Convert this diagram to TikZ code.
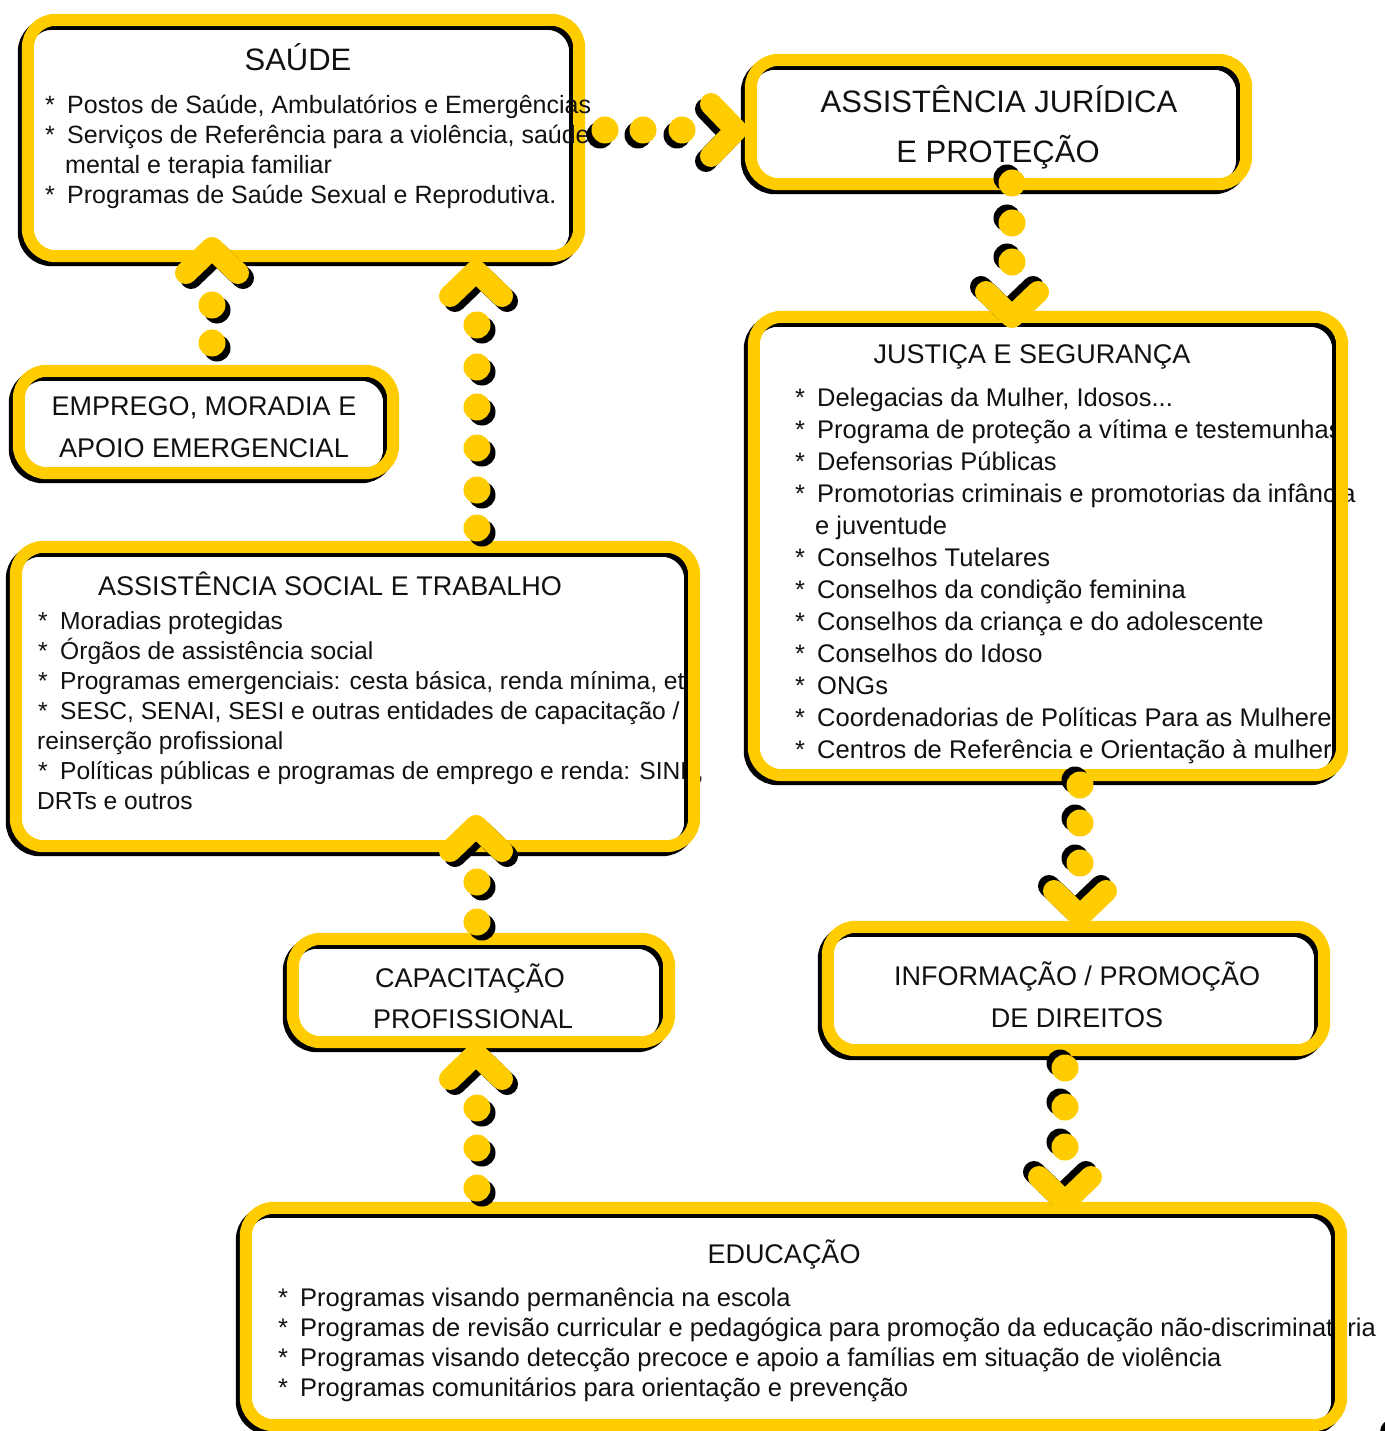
\documentclass[tikz,border=0pt]{standalone}
\usepackage{fontspec}
\setmainfont{Liberation Sans}
\definecolor{ylw}{HTML}{FFCC00}
\definecolor{txt}{HTML}{111111}
\tikzset{
 boxbg/.style={fill=white, draw=none, rounded corners=28pt, inner sep=0pt},
 bordS/.style={draw=black, line width=12pt, rounded corners=28pt},
 bordY/.style={draw=ylw, line width=12pt, rounded corners=28pt},
 chevS/.style={draw=black, line width=22pt, line cap=round, line join=round},
 chevY/.style={draw=ylw, line width=22pt, line cap=round, line join=round},
 ttl/.style={font=\fontsize{27}{32}\selectfont, anchor=base, inner sep=0pt, text=txt},
 bigttl/.style={font=\fontsize{31}{36}\selectfont, anchor=base, inner sep=0pt, text=txt},
 body/.style={font=\fontsize{25.5}{30}\selectfont, anchor=base west, inner sep=0pt, text=txt},
 sbody/.style={body, font=\fontsize{25}{30}\selectfont},
 cbody/.style={body, font=\fontsize{24.6}{30}\selectfont},
}
\newcommand\bul{\makebox[22pt][l]{*}}
\newcommand\boxborder[1]{%
 \draw[bordS] ([shift={(-4pt,-4pt)}]#1.south west) rectangle ([shift={(-4pt,-4pt)}]#1.north east);
 \draw[bordY] (#1.south west) rectangle (#1.north east);}
% dot: x, y, shadow dx, shadow dy
\newcommand\ydot[4]{%
 \fill[black] (#1+#3,#2+#4) circle[radius=13.5pt];
 \fill[ylw] (#1,#2) circle[radius=13.5pt];}
\newcommand\upchev[2]{%
 \draw[chevS, shift={(5,5)}] (#1-26,#2+25) -- (#1,#2) -- (#1+26,#2+25);
 \draw[chevY] (#1-26,#2+25) -- (#1,#2) -- (#1+26,#2+25);}
\newcommand\downchev[2]{%
 \draw[chevS, shift={(-5,-5)}] (#1-26,#2-25) -- (#1,#2) -- (#1+26,#2-25);
 \draw[chevY] (#1-26,#2-25) -- (#1,#2) -- (#1+26,#2-25);}
\newcommand\rightchev[2]{%
 \draw[chevS, shift={(-5,5)}] (#1-25,#2-26) -- (#1,#2) -- (#1-25,#2+26);
 \draw[chevY] (#1-25,#2-26) -- (#1,#2) -- (#1-25,#2+26);}
\begin{document}
\begin{tikzpicture}[x=1pt,y=-1pt]
\useasboundingbox (0,0) rectangle (1384,1431);
\fill[white] (0,0) rectangle (1384,1431);

% ---------- box backgrounds ----------
\node[boxbg, minimum width=551pt, minimum height=236pt] (saude) at (303.5,138) {};
\node[boxbg, minimum width=495pt, minimum height=124pt] (jur) at (998.5,122) {};
\node[boxbg, minimum width=374pt, minimum height=102pt] (emp) at (206,422) {};
\node[boxbg, minimum width=678pt, minimum height=299pt] (soc) at (355,696.5) {};
\node[boxbg, minimum width=588pt, minimum height=458pt] (just) at (1048,546) {};
\node[boxbg, minimum width=376pt, minimum height=103pt] (cap) at (481,990.5) {};
\node[boxbg, minimum width=496pt, minimum height=123pt] (inf) at (1076,988.5) {};
\node[boxbg, minimum width=1095pt, minimum height=217pt] (edu) at (793.5,1316.5) {};

% ---------- texts (below borders) ----------
\node[bigttl] (jurT1) at (999,113) {ASSISTÊNCIA JURÍDICA};
\node[bigttl] (jurT2) at (998,163) {E PROTEÇÃO};

\node[ttl] (empT1) at (204,415) {EMPREGO, MORADIA E};
\node[ttl] (empT2) at (204,457) {APOIO EMERGENCIAL};

\node[ttl] (socT) at (330,595) {ASSISTÊNCIA SOCIAL E TRABALHO};
\node[cbody] (soc1) at (38,629) {\bul Moradias protegidas};
\node[cbody] (soc2) at (38,659) {\bul Órgãos de assistência social};
\node[cbody] (soc3) at (38,689) {\bul Programas emergenciais: cesta básica, renda mínima, etc};
\node[cbody] (soc4) at (38,719) {\bul SESC, SENAI, SESI e outras entidades de capacitação /};
\node[cbody] (soc5) at (37,749) {reinserção profissional};
\node[cbody] (soc6) at (38,779) {\bul Políticas públicas e programas de emprego e renda: SINE,};
\node[cbody] (soc7) at (37,809) {DRTs e outros};

\node[ttl] (justT) at (1032,363) {JUSTIÇA E SEGURANÇA};
\node[body] (just1) at (795,406) {\bul Delegacias da Mulher, Idosos...};
\node[body] (just2) at (795,438) {\bul Programa de proteção a vítima e testemunhas;};
\node[body] (just3) at (795,470) {\bul Defensorias Públicas};
\node[body] (just4) at (795,502) {\bul Promotorias criminais e promotorias da infância};
\node[body] (just5) at (815,534) {e juventude};
\node[body] (just6) at (795,566) {\bul Conselhos Tutelares};
\node[body] (just7) at (795,598) {\bul Conselhos da condição feminina};
\node[body] (just8) at (795,630) {\bul Conselhos da criança e do adolescente};
\node[body] (just9) at (795,662) {\bul Conselhos do Idoso};
\node[body] (just10) at (795,694) {\bul ONGs};
\node[body] (just11) at (795,726) {\bul Coordenadorias de Políticas Para as Mulheres};
\node[body] (just12) at (795,758) {\bul Centros de Referência e Orientação à mulher};

\node[ttl] (capT1) at (470,987) {CAPACITAÇÃO};
\node[ttl] (capT2) at (473,1028) {PROFISSIONAL};

\node[ttl] (infT1) at (1077,985) {INFORMAÇÃO / PROMOÇÃO};
\node[ttl] (infT2) at (1077,1027) {DE DIREITOS};

\node[ttl] (eduT) at (784,1263) {EDUCAÇÃO};
\node[body] (edu1) at (278,1306) {\bul Programas visando permanência na escola};
\node[body] (edu2) at (278,1336) {\bul Programas de revisão curricular e pedagógica para promoção da educação não-discriminatória};
\node[body] (edu3) at (278,1366) {\bul Programas visando detecção precoce e apoio a famílias em situação de violência};
\node[body] (edu4) at (278,1396) {\bul Programas comunitários para orientação e prevenção};

% ---------- borders ----------
\boxborder{saude}
\boxborder{jur}
\boxborder{emp}
\boxborder{soc}
\boxborder{just}
\boxborder{cap}
\boxborder{inf}
\boxborder{edu}

% ---------- SAUDE texts (above its border) ----------
\node[bigttl] (saudeT) at (298,71) {SAÚDE};
\node[sbody] (saude1) at (45,114) {\bul Postos de Saúde, Ambulatórios e Emergências};
\node[sbody] (saude2) at (45,144) {\bul Serviços de Referência para a violência, saúde};
\node[sbody] (saude3) at (65,174) {mental e terapia familiar};
\node[sbody] (saude4) at (45,204) {\bul Programas de Saúde Sexual e Reprodutiva.};

% ---------- connectors ----------
% saude -> jur
\coordinate (tipA) at (736,130);
\foreach \x in {605,643,682} {\ydot{\x}{130}{-5}{5}}
\rightchev{736}{130}
% emp -> saude
\coordinate (tipB) at (212,248);
\foreach \y in {343,305} {\ydot{212}{\y}{5}{5}}
\upchev{212}{248}
% soc -> saude
\coordinate (tipC) at (476,271);
\foreach \y in {528,490,448,407,367,325} {\ydot{477}{\y}{5}{5}}
\upchev{476}{271}
% jur -> just
\coordinate (tipD) at (1012,317);
\foreach \y in {183,223,262} {\ydot{1012}{\y}{-5}{-5}}
\downchev{1012}{317}
% just -> inf
\coordinate (tipE) at (1080,916);
\foreach \y in {785,823,863} {\ydot{1080}{\y}{-5}{-5}}
\downchev{1080}{916}
% inf -> edu
\coordinate (tipF) at (1065,1202);
\foreach \y in {1068,1107,1147} {\ydot{1065}{\y}{-5}{-5}}
\downchev{1065}{1202}
% cap -> soc
\coordinate (tipG) at (476,826);
\foreach \y in {922,882} {\ydot{477}{\y}{5}{5}}
\upchev{476}{826}
% edu -> cap
\coordinate (tipH) at (476,1054);
\foreach \y in {1188,1148,1108} {\ydot{477}{\y}{5}{5}}
\upchev{476}{1054}

% fragment at bottom right corner
\fill[black] (1393,1432) circle[radius=13pt];
\end{tikzpicture}
\end{document}
